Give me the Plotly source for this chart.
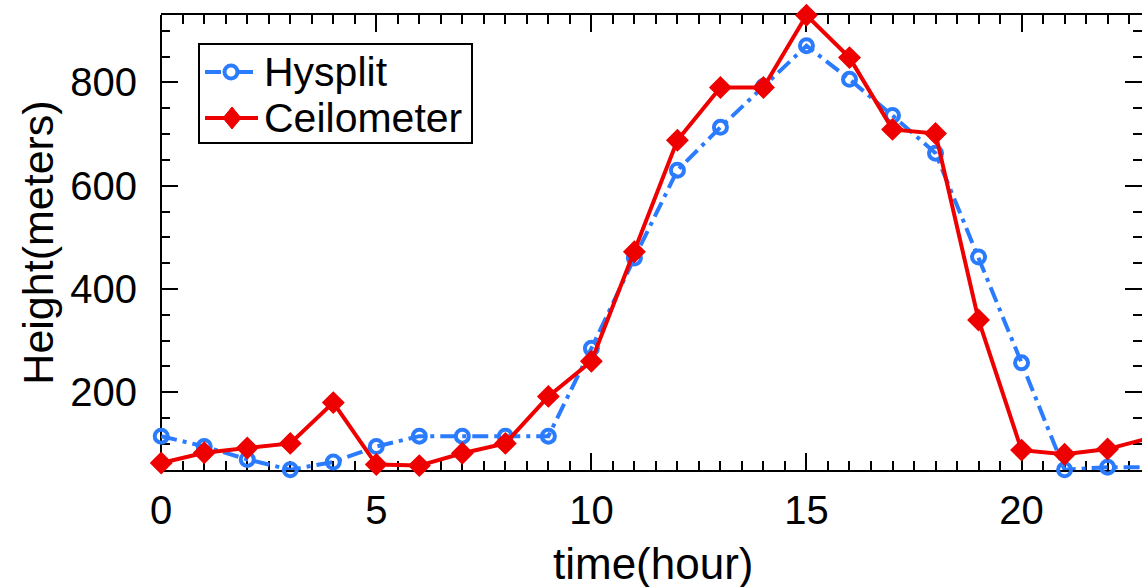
import plotly.graph_objects as go

hours = list(range(24))
hysplit = [115, 95, 70, 50, 65, 95, 115, 115, 115, 115, 285, 460, 630, 713, 792, 871,
           806, 736, 663, 462, 257, 50, 55, 55]
ceilometer = [63, 83, 92, 101, 180, 60, 58, 82, 101, 192, 260, 472, 688, 790, 790, 930,
              848, 709, 701, 340, 88, 80, 90, 112]
series_names = ["Hysplit", "Ceilometer"]

x_tickvals = [0, 5, 10, 15, 20]
y_tickvals = [200, 400, 600, 800]

FONT = "Liberation Sans, Arial, sans-serif"
BLUE = "rgb(43,123,255)"
RED = "rgb(238,0,0)"
DASH = "16px,6px,4px,6px"

# plot area geometry (px) used for legend placement
L, R, T, B = 161, 1142, 15, 470
PW, PH = R - L, B - T


def px(xp):
    return (xp - L) / PW


def py(yp):
    return (B - yp) / PH


fig = go.Figure()
fig.add_trace(go.Scatter(
    x=hours, y=hysplit, name=series_names[0], mode="lines+markers",
    line=dict(color=BLUE, width=4, dash=DASH),
    marker=dict(symbol="circle-open", size=13, color=BLUE, line=dict(width=4, color=BLUE)),
    cliponaxis=False, showlegend=False,
))
fig.add_trace(go.Scatter(
    x=hours, y=ceilometer, name=series_names[1], mode="lines+markers",
    line=dict(color=RED, width=4),
    marker=dict(symbol="diamond", size=16, color=RED, line=dict(width=1.5, color=RED)),
    cliponaxis=False, showlegend=False,
))

# legend (box, samples, labels)
shapes = [
    dict(type="line", xref="paper", yref="paper", x0=0, x1=0, y0=0, y1=1,
         line=dict(color="black", width=2), layer="below"),
    dict(type="rect", xref="paper", yref="paper", x0=px(199), x1=px(472), y0=py(143), y1=py(44),
         line=dict(color="black", width=2), fillcolor="white", layer="above"),
    dict(type="line", xref="paper", yref="paper", x0=px(205), x1=px(258), y0=py(72), y1=py(72),
         line=dict(color=BLUE, width=4, dash=DASH), layer="above"),
    dict(type="circle", xref="paper", yref="paper", xsizemode="pixel", ysizemode="pixel",
         xanchor=px(231), yanchor=py(72), x0=-6.5, x1=6.5, y0=-6.5, y1=6.5,
         line=dict(color=BLUE, width=4), fillcolor="white", layer="above"),
    dict(type="line", xref="paper", yref="paper", x0=px(205), x1=px(258), y0=py(118), y1=py(118),
         line=dict(color=RED, width=4), layer="above"),
    dict(type="path", xref="paper", yref="paper", xsizemode="pixel", ysizemode="pixel",
         xanchor=px(232), yanchor=py(118), path="M 0,-11 L 9,0 L 0,11 L -9,0 Z",
         line=dict(color=RED, width=1), fillcolor=RED, layer="above"),
]
annotations = [
    dict(text=series_names[0], xref="paper", yref="paper", x=px(262), y=py(72),
         xanchor="left", yanchor="middle", showarrow=False,
         font=dict(family=FONT, size=41, color="black")),
    dict(text=series_names[1], xref="paper", yref="paper", x=px(262), y=py(118),
         xanchor="left", yanchor="middle", showarrow=False,
         font=dict(family=FONT, size=41, color="black")),
    dict(text="time(hour)", xref="paper", yref="paper", x=px(653), y=py(563),
         xanchor="center", yanchor="middle", showarrow=False,
         font=dict(family=FONT, size=44, color="black")),
]

fig.update_layout(
    width=1142, height=587,
    margin=dict(l=L, r=0, t=T, b=587 - B, autoexpand=False),
    paper_bgcolor="white", plot_bgcolor="white",
    font=dict(family=FONT, size=40, color="black"),
    showlegend=False,
    xaxis=dict(
        range=[-0.005, 22.8], tickvals=x_tickvals, ticktext=[str(v) for v in x_tickvals],
        ticks="inside", ticklen=17, tickwidth=2, tickcolor="black",
        minor=dict(dtick=0.5, tick0=0, ticks="inside", ticklen=9, tickwidth=2, tickcolor="black"),
        showline=True, linecolor="black", linewidth=2, mirror="allticks",
        showgrid=False, zeroline=False,
        tickfont=dict(family=FONT, size=40),
        ticklabelstandoff=4,
        automargin=False, layer="below traces",
    ),
    yaxis=dict(
        range=[49.5, 930.5], tickvals=y_tickvals, ticktext=[str(v) for v in y_tickvals],
        ticks="inside", ticklen=17, tickwidth=2, tickcolor="black",
        minor=dict(dtick=50, tick0=0, ticks="inside", ticklen=9, tickwidth=2, tickcolor="black"),
        showline=False, mirror="allticks",
        showgrid=False, zeroline=False,
        tickfont=dict(family=FONT, size=40),
        ticklabelstandoff=23,
        title=dict(text="Height(meters)", font=dict(family=FONT, size=43), standoff=3),
        automargin=False, layer="below traces",
    ),
    shapes=shapes,
    annotations=annotations,
)

fig.write_html("out.html")
